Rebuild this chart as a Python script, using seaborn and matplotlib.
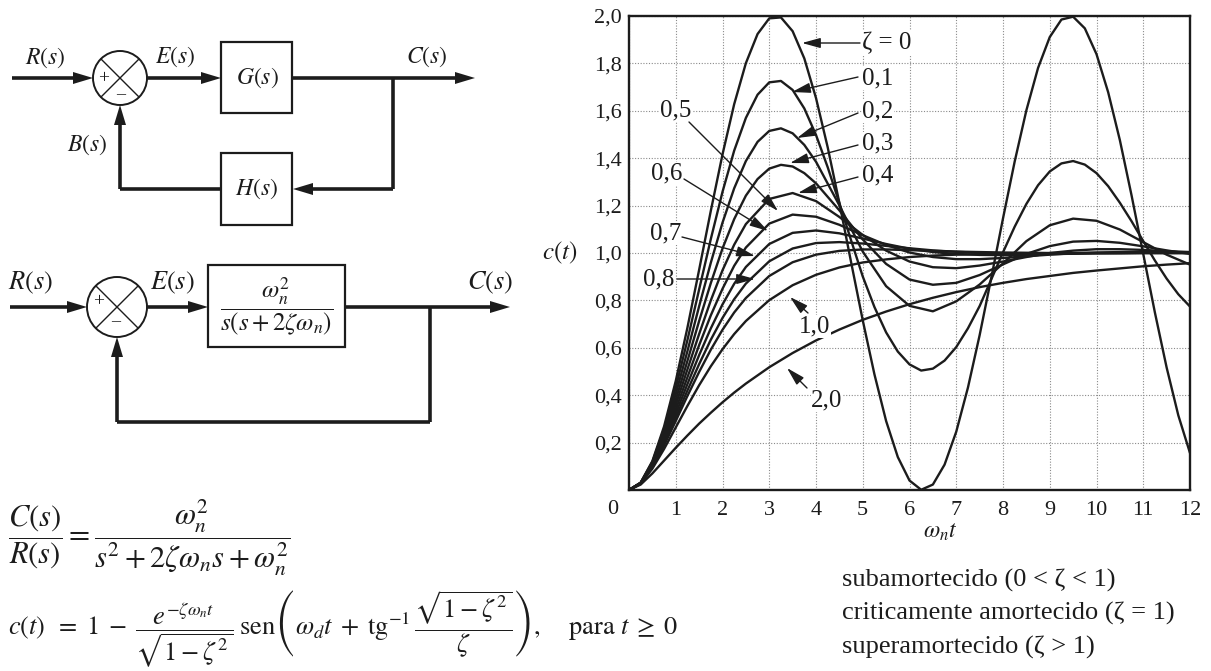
import numpy as np
import pandas as pd
import matplotlib
matplotlib.use("Agg")
import matplotlib.pyplot as plt
import seaborn as sns
from matplotlib.patches import Rectangle, Circle, Polygon

# ---------------- data ----------------
ZETAS = ["0", "0,1", "0,2", "0,3", "0,4", "0,5", "0,6", "0,7", "0,8", "1,0", "2,0"]

T_FINE = [0.0, 0.25, 0.5, 0.75, 1.0, 1.25, 1.5, 1.75, 2.0, 2.25, 2.5, 2.75, 3.0,
          3.25, 3.5, 3.75, 4.0, 4.25, 4.5, 4.75, 5.0, 5.25, 5.5, 5.75, 6.0, 6.25,
          6.5, 6.75, 7.0, 7.25, 7.5, 7.75, 8.0, 8.25, 8.5, 8.75, 9.0, 9.25, 9.5,
          9.75, 10.0, 10.25, 10.5, 10.75, 11.0, 11.25, 11.5, 11.75, 12.0]
T_MID = [0.0, 0.25, 0.5, 0.75, 1.0, 1.25, 1.5, 1.75, 2.0, 2.25, 2.5, 2.75, 3.0,
         3.25, 3.5, 3.75, 4.0, 4.5, 5.0, 5.5, 6.0, 6.5, 7.0, 7.5, 8.0, 8.5, 9.0,
         9.5, 10.0, 10.5, 11.0, 11.5, 12.0]
T_COARSE = [0.0, 0.25, 0.5, 0.75, 1.0, 1.25, 1.5, 1.75, 2.0, 2.25, 2.5, 3.0, 3.5,
            4.0, 4.5, 5.0, 5.5, 6.0, 6.5, 7.0, 7.5, 8.0, 8.5, 9.0, 9.5, 10.0,
            10.5, 11.0, 11.5, 12.0]

C_Z00 = [0.000, 0.031, 0.122, 0.268, 0.460, 0.685, 0.929, 1.178, 1.416, 1.628, 1.801,
         1.924, 1.990, 1.994, 1.936, 1.821, 1.654, 1.446, 1.211, 0.962, 0.716, 0.488,
         0.291, 0.139, 0.040, 0.001, 0.023, 0.107, 0.246, 0.432, 0.653, 0.896, 1.146,
         1.386, 1.602, 1.781, 1.911, 1.985, 1.997, 1.948, 1.839, 1.678, 1.476, 1.243,
         0.996, 0.748, 0.517, 0.315, 0.156]
C_Z01 = [0.000, 0.031, 0.119, 0.256, 0.431, 0.633, 0.846, 1.059, 1.258, 1.432, 1.570,
         1.668, 1.720, 1.726, 1.688, 1.610, 1.498, 1.362, 1.211, 1.054, 0.901, 0.772,
         0.665, 0.584, 0.530, 0.504, 0.512, 0.546, 0.603, 0.682, 0.776, 0.889, 1.003,
         1.111, 1.207, 1.286, 1.344, 1.378, 1.388, 1.373, 1.337, 1.282, 1.212, 1.134,
         1.050, 0.968, 0.892, 0.826, 0.774]
C_Z02 = [0.000, 0.030, 0.115, 0.244, 0.405, 0.586, 0.775, 0.959, 1.128, 1.273, 1.388,
         1.469, 1.515, 1.526, 1.505, 1.456, 1.385, 1.201, 1.006, 0.860, 0.777, 0.754,
         0.796, 0.867, 0.956, 1.050, 1.117, 1.145, 1.136, 1.099, 1.046, 0.993, 0.951]
C_Z03 = [0.000, 0.030, 0.111, 0.233, 0.381, 0.545, 0.713, 0.873, 1.019, 1.143, 1.242,
         1.312, 1.356, 1.372, 1.365, 1.337, 1.294, 1.180, 1.057, 0.954, 0.888, 0.866,
         0.874, 0.907, 0.952, 0.996, 1.029, 1.048, 1.051, 1.043, 1.028, 1.011, 0.996]
C_Z04 = [0.000, 0.029, 0.108, 0.222, 0.360, 0.509, 0.658, 0.800, 0.927, 1.035, 1.122,
         1.228, 1.253, 1.219, 1.152, 1.076, 1.010, 0.964, 0.940, 0.936, 0.947, 0.964,
         0.983, 1.000, 1.010, 1.016, 1.016, 1.013, 1.008, 1.004]
C_Z05 = [0.000, 0.029, 0.104, 0.213, 0.340, 0.476, 0.611, 0.737, 0.849, 0.946, 1.023,
         1.124, 1.162, 1.153, 1.119, 1.075, 1.034, 1.002, 0.983, 0.974, 0.974, 0.979,
         0.986, 0.993, 0.999, 1.002, 1.004, 1.004, 1.004, 1.003]
C_Z06 = [0.000, 0.028, 0.101, 0.204, 0.322, 0.447, 0.569, 0.682, 0.783, 0.870, 0.941,
         1.038, 1.085, 1.095, 1.083, 1.061, 1.038, 1.018, 1.004, 0.996, 0.992, 0.991,
         0.992, 0.995, 0.997, 0.999, 1.000, 1.001, 1.001, 1.001]
C_Z07 = [0.000, 0.028, 0.098, 0.195, 0.306, 0.420, 0.531, 0.634, 0.726, 0.805, 0.871,
         0.965, 1.019, 1.042, 1.046, 1.040, 1.030, 1.020, 1.011, 1.005, 1.001, 0.999,
         0.998, 0.998, 0.998, 0.999, 0.999, 1.000, 1.000, 1.000]
C_Z08 = [0.000, 0.027, 0.096, 0.188, 0.291, 0.397, 0.498, 0.592, 0.676, 0.749, 0.810,
         0.903, 0.961, 0.993, 1.009, 1.015, 1.015, 1.012, 1.009, 1.006, 1.004, 1.002,
         1.001, 1.000, 1.000, 1.000, 1.000, 1.000, 1.000, 1.000]
C_Z10 = [0.000, 0.027, 0.090, 0.173, 0.264, 0.355, 0.442, 0.522, 0.594, 0.658, 0.713,
         0.801, 0.864, 0.908, 0.939, 0.960, 0.973, 0.983, 0.989, 0.993, 0.995, 0.997,
         0.998, 0.999, 0.999, 1.000, 1.000, 1.000, 1.000, 1.000]
C_Z20 = [0.000, 0.023, 0.070, 0.124, 0.178, 0.230, 0.280, 0.326, 0.370, 0.411, 0.449,
         0.518, 0.578, 0.631, 0.677, 0.718, 0.753, 0.784, 0.811, 0.835, 0.856, 0.874,
         0.890, 0.903, 0.916, 0.926, 0.935, 0.944, 0.951, 0.957]

T_SERIES = [T_FINE, T_FINE, T_MID, T_MID, T_COARSE, T_COARSE, T_COARSE, T_COARSE,
            T_COARSE, T_COARSE, T_COARSE]
C_SERIES = [C_Z00, C_Z01, C_Z02, C_Z03, C_Z04, C_Z05, C_Z06, C_Z07, C_Z08, C_Z10, C_Z20]

X_TICKS = list(range(13))
X_TICK_LABELS = [""] + [str(i) for i in range(1, 13)]
Y_TICKS = [0.2, 0.4, 0.6, 0.8, 1.0, 1.2, 1.4, 1.6, 1.8, 2.0]
Y_TICK_LABELS = ["0,2", "0,4", "0,6", "0,8", "1,0", "1,2", "1,4", "1,6", "1,8", "2,0"]

STATES = ["subamortecido (0 < ζ < 1)", "criticamente amortecido (ζ = 1)",
          "superamortecido (ζ > 1)"]

# ---------------- style ----------------
sns.set_style("white")
plt.rcParams["font.family"] = ["Liberation Serif", "DejaVu Serif"]
plt.rcParams["mathtext.fontset"] = "stix"

INK = "#1c1c1c"
W, H = 1211, 671
fig = plt.figure(figsize=(W / 100, H / 100), dpi=100)

# chart axes
ax = fig.add_axes([629 / W, 1 - 490 / H, (1190 - 629) / W, (490 - 16) / H])
frames = [pd.DataFrame({"t": t, "c": c, "zeta": z})
          for z, t, c in zip(ZETAS, T_SERIES, C_SERIES)]
df = pd.concat(frames, ignore_index=True)
sns.lineplot(data=df, x="t", y="c", units="zeta", estimator=None, sort=False,
             color=INK, lw=1.7, ax=ax, legend=False)
for ln in ax.get_lines():
    ln.set_solid_joinstyle("round")
ax.set_xlim(0, 12)
ax.set_ylim(0, 2.0)
ax.set_xticks(X_TICKS)
ax.set_xticklabels(X_TICK_LABELS)
ax.set_yticks(Y_TICKS)
ax.set_yticklabels(Y_TICK_LABELS)
ax.set_xlabel("")
ax.set_ylabel("")
ax.grid(True, ls=(0, (1, 1.5)), color="#8a8a8a", lw=0.8)
ax.tick_params(axis="x", direction="in", length=11, width=1.6, labelsize=16,
               pad=8, colors=INK)
ax.tick_params(axis="y", direction="in", length=13, width=1.6, labelsize=16,
               pad=5, colors=INK)
for sp in ax.spines.values():
    sp.set_linewidth(1.7)
    sp.set_color(INK)
ax.text(-0.34, -0.084, "0", ha="center", va="center", fontsize=16, color=INK,
        clip_on=False)

# overlay axes in pixel coordinates for diagrams, equations and labels
bg = fig.add_axes([0, 0, 1, 1])
bg.set_xlim(0, W)
bg.set_ylim(H, 0)
bg.axis("off")

TLW = 2.6


def seg(xs, ys, lw=TLW):
    bg.plot(xs, ys, color=INK, lw=lw, solid_capstyle="butt",
            solid_joinstyle="miter")


def head(x, y, dx, dy, L=20, hw=6):
    bx, by = x - dx * L, y - dy * L
    px, py = -dy, dx
    bg.add_patch(Polygon([(x, y), (bx + px * hw, by + py * hw),
                          (bx - px * hw, by - py * hw)], closed=True,
                         fc=INK, ec="none", zorder=5))


def arrow(x0, y0, x1, y1):
    dx, dy = np.sign(x1 - x0), np.sign(y1 - y0)
    seg([x0, x1 - dx * 15], [y0, y1 - dy * 15])
    head(x1, y1, dx, dy)


def summer(cx, cy, r, plus_xy, minus_xy):
    bg.add_patch(Circle((cx, cy), r, fc="white", ec=INK, lw=1.4, zorder=4))
    d = r * 0.7071
    bg.plot([cx - d, cx + d], [cy - d, cy + d], color=INK, lw=1.0, zorder=4)
    bg.plot([cx - d, cx + d], [cy + d, cy - d], color=INK, lw=1.0, zorder=4)
    bg.text(*plus_xy, "+", ha="center", va="center", fontsize=14, color=INK, zorder=6)
    bg.text(*minus_xy, "\u2013", ha="center", va="center", fontsize=13, color=INK,
            zorder=6)


def box(x0, y0, x1, y1):
    bg.add_patch(Rectangle((x0, y0), x1 - x0, y1 - y0, fc="white", ec=INK,
                           lw=1.6, zorder=4))


def mt(x, y, s, fs=16, ha="center"):
    bg.text(x, y, s, ha=ha, va="center", fontsize=fs, color=INK, zorder=6)


# ---- diagram 1 ----
arrow(12, 78, 93, 78)
summer(120, 78, 27, (104, 79), (121, 95))
arrow(147, 78, 221, 78)
box(221, 42, 292, 113)
mt(257, 78, r"$G(s)$", 17)
arrow(292, 78, 475, 78)
seg([393, 393], [78, 189])
seg([393, 308], [189, 189])
head(293, 189, -1, 0)
box(221, 153, 292, 225)
mt(257, 189, r"$H(s)$", 17)
seg([221, 120], [189, 189])
seg([120, 120], [189, 120])
head(120, 105, 0, -1)
mt(45, 58, r"$R(s)$", 17)
mt(175, 57, r"$E(s)$", 17)
mt(427, 57, r"$C(s)$", 17)
mt(87, 145, r"$B(s)$", 17)

# ---- diagram 2 ----
arrow(10, 307, 87, 307)
summer(117, 307, 30, (99, 302), (116, 322))
arrow(147, 307, 208, 307)
box(208, 265, 345, 347)
mt(277, 306, r"$\dfrac{\omega_n^2}{s(s+2\zeta\omega_n)}$", 18)
arrow(345, 307, 510, 307)
seg([430, 430], [307, 422])
seg([430, 117], [422, 422])
seg([117, 117], [422, 352])
head(117, 337, 0, -1)
mt(31, 283, r"$R(s)$", 19)
mt(172, 283, r"$E(s)$", 19)
mt(490, 283, r"$C(s)$", 19)

# ---- equations ----
mt(8, 538, r"$\dfrac{C(s)}{R(s)} = \dfrac{\omega_n^2}{s^2 + 2\zeta\omega_n s + \omega_n^2}$",
   22, ha="left")
mt(8, 629, r"$c(t)\;\;=\;1\;-\;\dfrac{e^{-\zeta\omega_n t}}{\sqrt{1-\zeta^2}}\;"
   r"\mathrm{sen}\left(\omega_d t\;+\;\mathrm{tg}^{-1}\,\dfrac{\sqrt{1-\zeta^2}}{\zeta}\right),"
   r"\quad\;\mathrm{para}\ t\;\geq\;0$", 19, ha="left")

# ---- chart labels ----
mt(560, 253, r"$c(t)$", 18)
mt(940, 532, r"$\omega_n t$", 17)

ANN = [  # label, text x, text y, ha, tail, head  (pixel layout)
    ("ζ = 0", 862, 43, "left", (860, 43), (802, 43)),
    ("0,1", 862, 78, "left", (858, 77), (792, 92)),
    ("0,2", 862, 111, "left", (858, 113), (797, 138)),
    ("0,3", 862, 143, "left", (858, 145), (790, 163)),
    ("0,4", 862, 175, "left", (858, 177), (798, 193)),
    ("0,5", 676, 110, "center", (689, 122), (778, 211)),
    ("0,6", 667, 173, "center", (684, 179), (768, 231)),
    ("0,7", 666, 233, "center", (682, 237), (755, 256)),
    ("0,8", 659, 279, "center", (677, 279), (755, 279)),
    ("1,0", 815, 326, "center", (808, 313), (790, 297)),
    ("2,0", 827, 400, "center", (807, 388), (787, 368)),
]
for lab, tx, ty, ha, tail, hd in ANN:
    bg.text(tx, ty, lab, ha=ha, va="center", fontsize=18, color=INK, zorder=7,
            bbox=dict(fc="white", ec="none", pad=0.3))
    bg.annotate("", xy=hd, xytext=tail,
                arrowprops=dict(arrowstyle="-|>,head_length=0.8,head_width=0.22",
                                lw=1.0, color=INK, shrinkA=0, shrinkB=0,
                                mutation_scale=14), zorder=7)

for i, s in enumerate(STATES):
    bg.text(842, 580 + 33.5 * i, s, ha="left", va="center", fontsize=19, color=INK)

fig.savefig("out.png", dpi=100)
